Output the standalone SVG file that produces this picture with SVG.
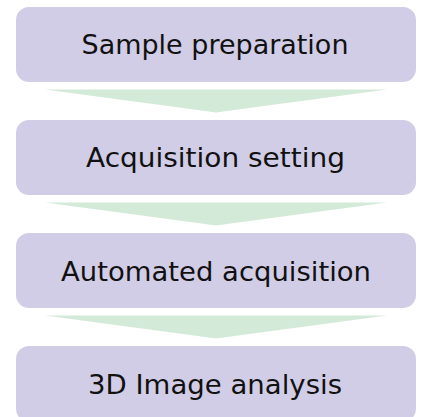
<svg xmlns="http://www.w3.org/2000/svg" width="422" height="417" viewBox="0 0 422 417">
  <style>
    .box { fill: #D1CDE6; }
    .arrow { fill: #D4EAD8; }
    .label { font-family: "DejaVu Sans", "Liberation Sans", sans-serif; font-size: 27px; fill: #111111; text-anchor: middle; }
  </style>
  <rect width="422" height="417" fill="#FFFFFF"/>
  <g id="connectors">
    <polygon class="arrow" points="45,89.5 387,89.5 216,112.5"/>
    <polygon class="arrow" points="45,202.5 387,202.5 216,225.5"/>
    <polygon class="arrow" points="45,315.5 387,315.5 216,338.5"/>
  </g>
  <g id="sample-preparation">
    <rect class="box" x="16" y="7" width="400" height="75" rx="13" ry="13"/>
    <text class="label" x="215" y="54" textLength="267" lengthAdjust="spacingAndGlyphs">Sample preparation</text>
  </g>
  <g id="acquisition-setting">
    <rect class="box" x="16" y="120" width="400" height="75" rx="13" ry="13"/>
    <text class="label" x="215.5" y="167" textLength="259" lengthAdjust="spacingAndGlyphs">Acquisition setting</text>
  </g>
  <g id="automated-acquisition">
    <rect class="box" x="16" y="233" width="400" height="75" rx="13" ry="13"/>
    <text class="label" x="216" y="280.5" textLength="310" lengthAdjust="spacingAndGlyphs">Automated acquisition</text>
  </g>
  <g id="image-analysis">
    <rect class="box" x="16" y="346" width="400" height="76" rx="13" ry="13"/>
    <text class="label" x="215" y="394" textLength="254" lengthAdjust="spacingAndGlyphs">3D Image analysis</text>
  </g>
</svg>
